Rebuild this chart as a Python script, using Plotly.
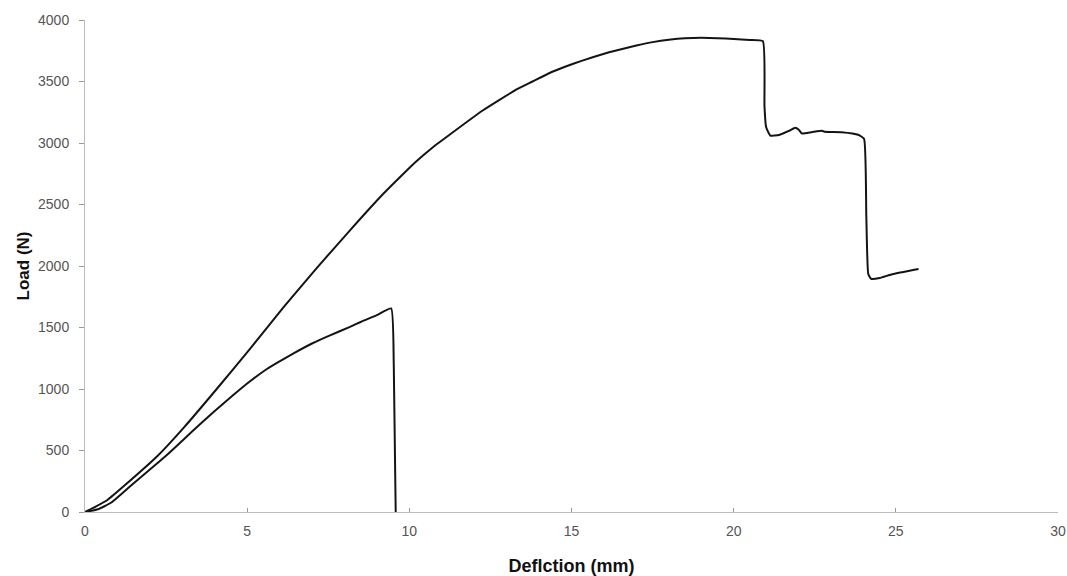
import plotly.graph_objects as go

# Upper (stiffer) specimen
upper_x = [0, 0.3, 0.7, 1.28, 2.25, 3.06, 4.08, 5.10, 6.13, 7.15, 8.17, 9.19, 9.7, 10.21, 10.7,
           11.23, 12.25, 13.27, 13.8, 14.29, 14.8, 15.31, 15.93, 16.5, 17.0, 17.5, 18.0, 18.5,
           19.0, 19.5, 20.0, 20.5, 20.9, 20.95, 21.0, 21.13, 21.4, 21.7, 21.9, 22.0, 22.1,
           22.4, 22.72, 22.8, 23.33, 23.84, 24.02, 24.09, 24.15, 24.24, 24.5, 24.86, 25.2,
           25.57, 25.7]
upper_y = [0, 40, 100, 229, 459, 690, 1006, 1330, 1667, 1985, 2290, 2585, 2720, 2850, 2960,
           3065, 3262, 3430, 3500, 3565, 3620, 3668, 3720, 3760, 3792, 3820, 3840, 3852,
           3855, 3852, 3846, 3838, 3828, 3300, 3130, 3060, 3065, 3098, 3124, 3110, 3078,
           3088, 3100, 3092, 3088, 3067, 3034, 2400, 1935, 1896, 1902, 1931, 1950,
           1969, 1975]

# Lower specimen
lower_x = [0, 0.4, 0.8, 1.33, 2.0, 2.55, 3.0, 3.57, 4.0, 4.59, 5.0, 5.62, 6.0, 6.43, 7.0,
           7.5, 8.17, 8.5, 9.0, 9.44, 9.52, 9.58]
lower_y = [0, 22, 75, 195, 345, 470, 580, 720, 822, 955, 1045, 1165, 1225, 1290, 1370,
           1430, 1505, 1545, 1600, 1655, 1200, 0]

x_ticks = [0, 5, 10, 15, 20, 25, 30]
y_ticks = [0, 500, 1000, 1500, 2000, 2500, 3000, 3500, 4000]

fig = go.Figure()
for xs, ys in ((upper_x, upper_y), (lower_x, lower_y)):
    fig.add_trace(go.Scatter(x=xs, y=ys, mode="lines",
                             line=dict(color="#141414", width=2, shape="spline", smoothing=0.4),
                             showlegend=False, cliponaxis=False))

fig.update_layout(
    width=1067, height=576,
    margin=dict(l=85, r=9, t=20, b=64, autoexpand=False),
    paper_bgcolor="white", plot_bgcolor="white",
    font=dict(family="Liberation Sans, Arial, sans-serif", color="#555555", size=14),
)
fig.update_xaxes(
    range=[0, 30], tickvals=x_ticks, ticktext=[str(v) for v in x_ticks],
    showgrid=False, zeroline=False, showline=True, linecolor="#bdbdbd", linewidth=1,
    ticks="inside", ticklen=4, tickcolor="#9a9a9a", ticklabelstandoff=6, automargin=False,
    title=dict(text="<b>Deflction (mm)</b>", standoff=31,
               font=dict(family="Liberation Sans Narrow, Arial Narrow, Liberation Sans, sans-serif",
                         size=18, color="#111111")),
)
fig.update_yaxes(
    range=[0, 4000], tickvals=y_ticks, ticktext=[str(v) for v in y_ticks],
    showgrid=False, zeroline=False, showline=True, linecolor="#bdbdbd", linewidth=1,
    ticks="outside", ticklen=5, tickcolor="#9a9a9a", ticklabelstandoff=7, automargin=False,
    title=dict(text="<b>Load (N)</b>", standoff=4,
               font=dict(family="Liberation Sans, Arial, sans-serif", size=17, color="#111111")),
)

# remove the default page margin so the figure fills the window exactly
fig.write_html("out.html",
               config={"displayModeBar": False},
               post_script="document.body.style.margin='0';document.body.style.overflow='hidden';")
